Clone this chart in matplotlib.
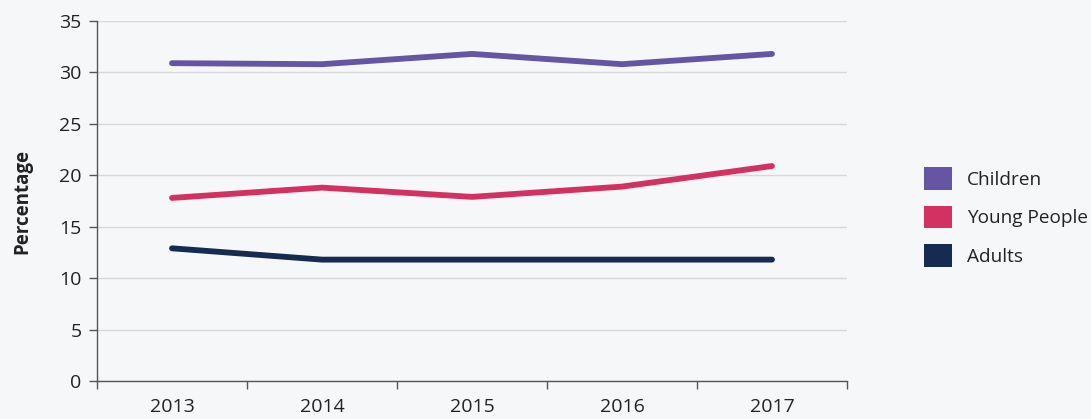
import matplotlib
matplotlib.use("Agg")
import matplotlib.pyplot as plt
from matplotlib.patches import Patch
import numpy as np

years = ["2013", "2014", "2015", "2016", "2017"]
children = [30.9, 30.8, 31.8, 30.8, 31.8]
young_people = [17.8, 18.8, 17.9, 18.9, 20.9]
adults = [12.9, 11.8, 11.8, 11.8, 11.8]
series_names = ["Children", "Young People", "Adults"]
colors = ["#6654A4", "#D33162", "#152B52"]

plt.rcParams['font.family'] = ['Open Sans', 'DejaVu Sans']
bg = "#F6F7F9"
fig = plt.figure(figsize=(10.91, 4.19), dpi=100, facecolor=bg)
ax = fig.add_axes([97/1091, 1-381/419, 750/1091, 360/419], facecolor=bg)

x = np.arange(len(years))
for vals, c in zip([children, young_people, adults], colors):
    ax.plot(x, vals, color=c, lw=4.2, solid_capstyle='round', solid_joinstyle='round', zorder=3)

ax.set_xlim(-0.5, len(years) - 0.5)
ax.set_ylim(0, 35)
ax.set_yticks(range(0, 36, 5))
ax.set_xticks(x)
ax.set_xticklabels(years)
ax.set_xticks(np.arange(-0.5, len(years)), minor=True)
ax.tick_params(axis='x', which='major', length=0, pad=12, labelsize=14, labelcolor="#222222")
ax.tick_params(axis='x', which='minor', length=6, width=1, color="#555555")
ax.tick_params(axis='y', length=6, width=1, color="#555555", labelsize=14, labelcolor="#222222", pad=5)
ax.grid(axis='y', color="#D8D8D8", lw=1, zorder=0)
for s in ['top', 'right']:
    ax.spines[s].set_visible(False)
for s in ['left', 'bottom']:
    ax.spines[s].set_color("#555555")
    ax.spines[s].set_linewidth(1)
ax.set_ylabel("Percentage", fontsize=13.5, fontweight='bold', color="#222222", labelpad=19)

handles = [Patch(facecolor=c, edgecolor='none') for c in colors]
fig.legend(handles, series_names, loc='center left', bbox_to_anchor=(924/1091, 1-217/419),
           frameon=False, fontsize=13.7, handlelength=1.45, handleheight=1.45,
           labelspacing=0.85, handletextpad=0.8, borderpad=0, borderaxespad=0,
           labelcolor="#222222")

fig.savefig("out.png", dpi=100, facecolor=bg)
